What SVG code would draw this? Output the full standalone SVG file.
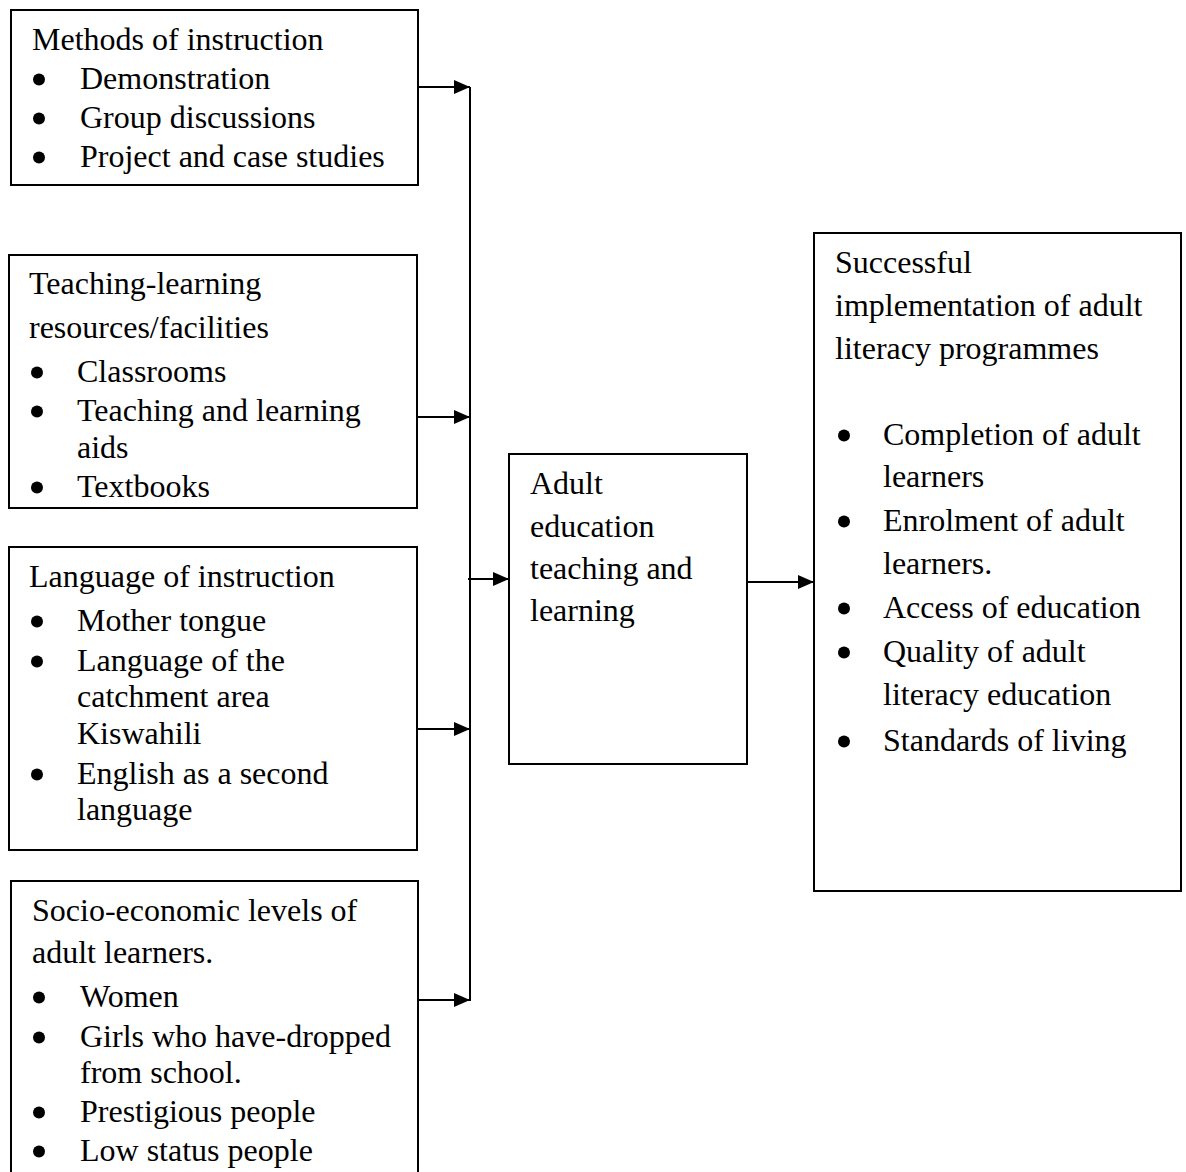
<svg xmlns="http://www.w3.org/2000/svg" width="1186" height="1172" viewBox="0 0 1186 1172">
<defs>
<style>
.box{fill:#fff;stroke:#000;stroke-width:2}
.t{font-family:"Liberation Serif","Times New Roman",serif;font-size:32px;fill:#000}
.b{fill:#000}
.ln{fill:none;stroke:#000;stroke-width:2}
</style>
<marker id="ah" viewBox="0 0 16 14" refX="16" refY="7" markerWidth="16" markerHeight="14" markerUnits="userSpaceOnUse" orient="auto">
<path d="M0,0 L16,7 L0,14 Z" fill="#000"/>
</marker>
</defs>
<rect width="1186" height="1172" fill="#fff"/>

<g id="methods">
<rect class="box" x="11" y="10" width="407" height="175"/>
<text class="t" x="32" y="50">Methods of instruction</text>
<circle class="b" cx="39" cy="79.5" r="6"/>
<text class="t" x="80" y="89">Demonstration</text>
<circle class="b" cx="39" cy="118.5" r="6"/>
<text class="t" x="80" y="128">Group discussions</text>
<circle class="b" cx="39" cy="157.5" r="6"/>
<text class="t" x="80" y="167">Project and case studies</text>
</g>

<g id="resources">
<rect class="box" x="9" y="255" width="408" height="253"/>
<text class="t" x="29" y="294">Teaching-learning</text>
<text class="t" x="29" y="338">resources/facilities</text>
<circle class="b" cx="37" cy="372.5" r="6"/>
<text class="t" x="77" y="382">Classrooms</text>
<circle class="b" cx="37" cy="411.5" r="6"/>
<text class="t" x="77" y="421">Teaching and learning</text>
<text class="t" x="77" y="458">aids</text>
<circle class="b" cx="37" cy="487.5" r="6"/>
<text class="t" x="77" y="497">Textbooks</text>
</g>

<g id="language">
<rect class="box" x="9" y="547" width="408" height="303"/>
<text class="t" x="29" y="587">Language of instruction</text>
<circle class="b" cx="37" cy="621.5" r="6"/>
<text class="t" x="77" y="631">Mother tongue</text>
<circle class="b" cx="37" cy="661.5" r="6"/>
<text class="t" x="77" y="671">Language of the</text>
<text class="t" x="77" y="707">catchment area</text>
<text class="t" x="77" y="744">Kiswahili</text>
<circle class="b" cx="37" cy="774.5" r="6"/>
<text class="t" x="77" y="784">English as a second</text>
<text class="t" x="77" y="820">language</text>
</g>

<g id="socio">
<rect class="box" x="11" y="881" width="407" height="310"/>
<text class="t" x="32" y="921">Socio-economic levels of</text>
<text class="t" x="32" y="963">adult learners.</text>
<circle class="b" cx="39" cy="997.5" r="6"/>
<text class="t" x="80" y="1007">Women</text>
<circle class="b" cx="39" cy="1037.5" r="6"/>
<text class="t" x="80" y="1047">Girls who have-dropped</text>
<text class="t" x="80" y="1083">from school.</text>
<circle class="b" cx="39" cy="1112.5" r="6"/>
<text class="t" x="80" y="1122">Prestigious people</text>
<circle class="b" cx="39" cy="1151.5" r="6"/>
<text class="t" x="80" y="1161">Low status people</text>
</g>

<g id="adult-education">
<rect class="box" x="509" y="454" width="238" height="310"/>
<text class="t" x="530" y="494">Adult</text>
<text class="t" x="530" y="537">education</text>
<text class="t" x="530" y="579">teaching and</text>
<text class="t" x="530" y="621">learning</text>
</g>

<g id="outcome">
<rect class="box" x="814" y="233" width="367" height="658"/>
<text class="t" x="835" y="273">Successful</text>
<text class="t" x="835" y="316">implementation of adult</text>
<text class="t" x="835" y="359">literacy programmes</text>
<circle class="b" cx="844" cy="435.5" r="6"/>
<text class="t" x="883" y="445">Completion of adult</text>
<text class="t" x="883" y="487">learners</text>
<circle class="b" cx="844" cy="521.5" r="6"/>
<text class="t" x="883" y="531">Enrolment of adult</text>
<text class="t" x="883" y="574">learners.</text>
<circle class="b" cx="844" cy="608.5" r="6"/>
<text class="t" x="883" y="618">Access of education</text>
<circle class="b" cx="844" cy="652.5" r="6"/>
<text class="t" x="883" y="662">Quality of adult</text>
<text class="t" x="883" y="705">literacy education</text>
<circle class="b" cx="844" cy="741.5" r="6"/>
<text class="t" x="883" y="751">Standards of living</text>
</g>

<g id="connectors">
<line class="ln" x1="470" y1="87" x2="470" y2="1001"/>
<line class="ln" x1="418" y1="87" x2="470" y2="87" marker-end="url(#ah)"/>
<line class="ln" x1="417" y1="417" x2="470" y2="417" marker-end="url(#ah)"/>
<line class="ln" x1="417" y1="729" x2="470" y2="729" marker-end="url(#ah)"/>
<line class="ln" x1="418" y1="1000" x2="470" y2="1000" marker-end="url(#ah)"/>
<line class="ln" x1="468" y1="579" x2="509" y2="579" marker-end="url(#ah)"/>
<line class="ln" x1="747" y1="582" x2="814" y2="582" marker-end="url(#ah)"/>
</g>
</svg>
